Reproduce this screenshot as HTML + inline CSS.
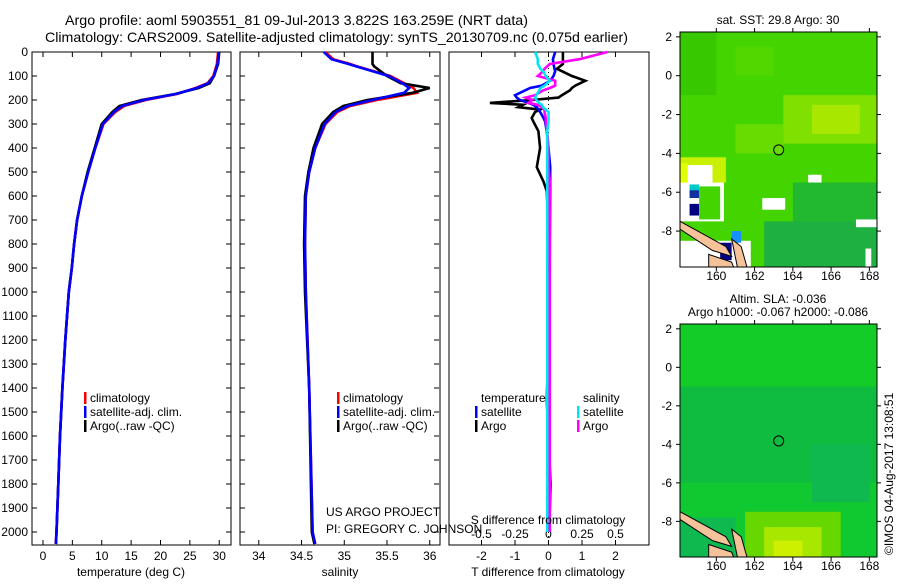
<!DOCTYPE html>
<html><head><meta charset="utf-8"><style>
body{margin:0;background:#fff}
svg text{font-family:"Liberation Sans",sans-serif;font-size:12px;fill:#000}
</style></head><body>
<svg id="s" width="900" height="580" xmlns="http://www.w3.org/2000/svg">
<text x="65" y="25" textLength="463" lengthAdjust="spacingAndGlyphs" style="font-size:14px">Argo profile: aoml 5903551_81 09-Jul-2013 3.822S 163.259E (NRT data)</text>
<text x="45" y="42" textLength="583" lengthAdjust="spacingAndGlyphs" style="font-size:14px">Climatology: CARS2009. Satellite-adjusted climatology: synTS_20130709.nc (0.075d earlier)</text>
<g id="maps"></g>
<g id="plots"></g>
<text transform="translate(893,555) rotate(-90)">©IMOS 04-Aug-2017 13:08:51</text>
</svg>
<script>
// ---- data ----
const depthTicks=[0,100,200,300,400,500,600,700,800,900,1000,1100,1200,1300,1400,1500,1600,1700,1800,1900,2000];
const tDepth=[0,50,100,130,150,175,200,225,250,300,400,500,600,700,800,900,1000,1200,1400,1600,1800,2000,2050];
const tArgo=[30,29.8,29.1,28.4,26.5,22.5,16.8,13.0,11.8,10.0,8.8,7.6,6.6,5.8,5.3,4.9,4.4,3.8,3.3,2.9,2.6,2.3,2.2];
const tClim=[29.8,29.6,29.0,28.0,26.0,22.8,17.5,13.8,12.3,10.3,8.9,7.7,6.6,5.8,5.3,4.9,4.4,3.8,3.3,2.9,2.6,2.3,2.2];
const tSat=[29.9,29.7,29.1,28.1,26.2,22.6,17.2,13.5,12.1,10.2,8.9,7.7,6.6,5.8,5.3,4.9,4.4,3.8,3.3,2.9,2.6,2.3,2.2];
const sDepth=[0,30,50,60,100,130,150,170,200,225,250,300,400,500,600,800,1000,1400,2000,2050];
const sArgo=[35.33,35.33,35.33,35.35,35.5,35.66,36.0,35.8,35.27,34.99,34.87,34.74,34.64,34.58,34.54,34.53,34.54,34.59,34.62,34.65];
const sClim=[34.78,34.87,35.07,35.15,35.54,35.7,35.81,35.85,35.38,35.07,34.92,34.78,34.66,34.59,34.55,34.54,34.55,34.59,34.63,34.66];
const sSat=[34.76,34.85,35.05,35.14,35.52,35.68,35.76,35.7,35.33,35.04,34.9,34.77,34.66,34.59,34.55,34.54,34.55,34.59,34.63,34.66];
const dDepth=[0,30,50,70,80,100,120,140,150,160,180,190,200,212,220,230,240,250,275,290,330,400,480,540,580,800,1200,1450,1600,1800,2000];
const dTArgo=[0.43,0.43,0.43,0.25,0.4,0.7,1.1,0.8,0.7,0.64,0.4,0.3,-0.5,-1.75,-0.76,-0.9,-0.25,-0.4,-0.5,-0.45,-0.3,-0.25,-0.35,-0.15,-0.05,0.02,0.0,-0.05,0.0,0.06,0.02];
const dTSat=[0.2,0.13,0.15,0.18,0.2,0.15,0.05,-0.2,-0.55,-0.7,-1.0,-0.95,-0.85,-0.6,-0.45,-0.35,-0.3,-0.25,-0.15,-0.1,-0.05,0.0,0.05,0.05,0.05,0.04,0.03,0.03,0.03,0.03,0.03];
const dSArgo=[0.44,0.23,0.01,-0.03,-0.04,-0.08,0.05,0.05,0.01,-0.04,-0.1,-0.17,-0.12,-0.15,-0.08,-0.05,-0.03,-0.03,-0.02,-0.02,-0.01,0.0,0.0,0.01,0.01,0.01,0.01,0.01,0.01,0.01,0.01];
const dSSat=[-0.1,-0.08,-0.08,-0.06,-0.04,-0.02,0.01,-0.03,-0.06,-0.07,-0.09,-0.1,-0.09,-0.07,-0.05,-0.04,-0.02,0.0,0.0,0.0,-0.01,-0.01,-0.01,-0.01,-0.01,-0.01,-0.01,-0.01,-0.01,-0.01,-0.01];
const tTicks=[0,5,10,15,20,25,30];
const salTicks=[34,34.5,35,35.5,36];
const salTickLabels=["34","34.5","35","35.5","36"];
const dtTicks=[-2,-1,0,1,2];
const dsTicks=[-0.5,-0.25,0,0.25,0.5];
const dsTickLabels=["-0.5","-0.25","0","0.25","0.5"];
const latTicks=[2,0,-2,-4,-6,-8];
const lonTicks=[160,162,164,166,168];
// ---- helpers ----
const NS="http://www.w3.org/2000/svg";
const svg=document.getElementById('s');
const plots=document.getElementById('plots');
function mk(tag,attrs,parent,text){const e=document.createElementNS(NS,tag);for(const k in attrs)e.setAttribute(k,attrs[k]);if(text!==undefined)e.textContent=text;(parent||plots).appendChild(e);return e;}
const yTop=52,yBot=545;
const yD=d=>yTop+d*0.24;
function panel(x0,x1,xmin,xmax,name){
  const sx=v=>x0+(v-xmin)/(xmax-xmin)*(x1-x0);
  const r=mk('rect',{x:x0,y:yTop,width:x1-x0,height:yBot-yTop,fill:'none',stroke:'#000','stroke-width':1});
  
  
  return sx;
}
function line(xs,ds,sx,color,name,w,dash){
  let d='';xs.forEach((v,i)=>{d+=(i?'L':'M')+sx(v).toFixed(1)+','+yD(ds[i]).toFixed(1);});
  const p=mk('path',{d:d,fill:'none',stroke:color,'stroke-width':w||2.6});
  if(dash)p.setAttribute('stroke-dasharray',dash);
  
  
}
function xticks(vals,labels,sx,y,name){
  vals.forEach((v,i)=>{
    const x=sx(v);
    mk('line',{x1:x,x2:x,y1:yTop,y2:yTop+5,stroke:'#000'});
    mk('line',{x1:x,x2:x,y1:yBot,y2:yBot-5,stroke:'#000'});
    const t=mk('text',{x:x,y:y,'text-anchor':'middle'},plots,labels[i]);
    
    
  });
}
function legend(x,y,color,label,name){
  mk('rect',{x:x-6,y:y-10,width:2.5,height:12,fill:color});
  const t=mk('text',{x:x,y:y},plots,label);
  
  
}
function txt(x,y,s,name,anchor){const t=mk('text',{x:x,y:y,'text-anchor':anchor||'start'},plots,s);
  
  }
// ---- panel 1: temperature ----
const sxT=panel(32,231,-1.87,32.0,'temperature-panel');
depthTicks.forEach(d=>{
  const y=yD(d);
  mk('line',{x1:32,x2:37,y1:y,y2:y,stroke:'#000'});mk('line',{x1:231,x2:226,y1:y,y2:y,stroke:'#000'});
  mk('line',{x1:240,x2:245,y1:y,y2:y,stroke:'#000'});mk('line',{x1:439,x2:434,y1:y,y2:y,stroke:'#000'});
  const t=mk('text',{x:28,y:y+4,'text-anchor':'end'},plots,String(d));
  
  
});
xticks(tTicks,tTicks.map(String),sxT,560,'temperature');
line(tClim,tDepth,sxT,'#ff0000','temperature-climatology-line');
line(tArgo,tDepth,sxT,'#000000','temperature-argo-line');
line(tSat,tDepth,sxT,'#0000ff','temperature-satellite-line');
txt(131,576,'temperature (deg C)','temperature-axis-title','middle');
legend(90,402,'#ff0000','climatology','legend-climatology');
legend(90,416,'#0000ff','satellite-adj. clim.','legend-satellite-adj');
legend(90,430,'#000000','Argo(..raw -QC)','legend-argo');
// ---- panel 2: salinity ----
const sxS=panel(240,440,33.78,36.12,'salinity-panel');
xticks(salTicks,salTickLabels,sxS,560,'salinity');
line(sClim,sDepth,sxS,'#ff0000','salinity-climatology-line');
line(sArgo,sDepth,sxS,'#000000','salinity-argo-line');
line(sSat,sDepth,sxS,'#0000ff','salinity-satellite-line');
txt(340,576,'salinity','salinity-axis-title','middle');
legend(343,402,'#ff0000','climatology','legend-climatology-2');
legend(343,416,'#0000ff','satellite-adj. clim.','legend-satellite-adj-2');
legend(343,430,'#000000','Argo(..raw -QC)','legend-argo-2');
txt(326,516,'US ARGO PROJECT','project-label');
txt(326,533,'PI: GREGORY C. JOHNSON','pi-label');
// ---- panel 3: differences ----
const sxD=panel(449,649,-2.97,3.0,'difference-panel');
const sxDS=v=>sxD(v*4);
xticks(dtTicks,dtTicks.map(String),sxD,560,'t-difference');
dsTicks.forEach((v,i)=>{const t=mk('text',{x:sxDS(v),y:538,'text-anchor':'middle'},plots,dsTickLabels[i]);
  
  });
mk('line',{x1:sxD(0),x2:sxD(0),y1:yTop,y2:yBot,stroke:'#000','stroke-dasharray':'1,3'});
line(dTArgo,dDepth,sxD,'#000000','t-diff-argo-line');
line(dTSat,dDepth,sxD,'#0000ff','t-diff-satellite-line');
line(dSArgo,dDepth,sxDS,'#ff00ff','s-diff-argo-line');
line(dSSat,dDepth,sxDS,'#00e5ee','s-diff-satellite-line');
txt(548,524,'S difference from climatology','s-difference-axis-title','middle');
txt(548,576,'T difference from climatology','t-difference-axis-title','middle');
txt(481,402,'temperature','legend-temperature-heading');
txt(583,402,'salinity','legend-salinity-heading');
legend(481,416,'#0000ff','satellite','legend-t-satellite');
legend(481,430,'#000000','Argo','legend-t-argo');
legend(583,416,'#00e5ee','satellite','legend-s-satellite');
legend(583,430,'#ff00ff','Argo','legend-s-argo');
// ---- maps ----
const maps=document.getElementById('maps');
function mapPanel(y0,y1,name,base,patches){
  const x0=680,x1=877;
  const lx=v=>x0+(v-158.1)/(168.4-158.1)*(x1-x0);
  const ly=v=>y0+(2.25-v)/(2.25+9.85)*(y1-y0);
  const g=mk('g',{},maps);
  
  
  mk('rect',{x:x0,y:y0,width:x1-x0,height:y1-y0,fill:base},g);
  patches.forEach(p=>mk('rect',{x:lx(p[0]),y:ly(p[1]),width:lx(p[2])-lx(p[0]),height:ly(p[3])-ly(p[1]),fill:p[4]},g));
  mk('path',{d:`M${lx(158.1)},${ly(-7.5)} L${lx(160.5)},${ly(-8.8)} L${lx(160.8)},${ly(-9.3)} L${lx(159.8)},${ly(-9.0)} L${lx(158.1)},${ly(-7.9)} Z`,fill:'#f5c29a',stroke:'#000'},g);
  mk('path',{d:`M${lx(160.8)},${ly(-8.4)} L${lx(161.3)},${ly(-8.8)} L${lx(161.6)},${ly(-9.85)} L${lx(161.1)},${ly(-9.85)} Z`,fill:'#f5c29a',stroke:'#000'},g);
  mk('path',{d:`M${lx(159.6)},${ly(-9.2)} L${lx(160.8)},${ly(-9.6)} L${lx(160.9)},${ly(-9.85)} L${lx(159.6)},${ly(-9.85)} Z`,fill:'#f5c29a',stroke:'#000'},g);
  mk('circle',{cx:lx(163.259),cy:ly(-3.822),r:5,fill:'none',stroke:'#000'},g);
  mk('rect',{x:x0,y:y0,width:x1-x0,height:y1-y0,fill:'none',stroke:'#000'},g);
  latTicks.forEach(v=>{const y=ly(v);mk('line',{x1:x0-4,x2:x0,y1:y,y2:y,stroke:'#000'},g);mk('line',{x1:x1,x2:x1+4,y1:y,y2:y,stroke:'#000'},g);
    const t=mk('text',{x:x0-8,y:y+4,'text-anchor':'end'},g,String(v));
    
    });
  lonTicks.forEach(v=>{const x=lx(v);mk('line',{x1:x,x2:x,y1:y0-4,y2:y0,stroke:'#000'},g);mk('line',{x1:x,x2:x,y1:y1,y2:y1+4,stroke:'#000'},g);
    const t=mk('text',{x:x,y:y1+13,'text-anchor':'middle'},g,String(v));
    
    });
}
mapPanel(32,267,'sst-map','#44d400',[
 [158.1,2.25,160,-1,'#38c800'],[161,1.5,163,0,'#50d800'],[163.5,-1,168.4,-3.5,'#80e000'],[165,-1.5,167.5,-3,'#a8e800'],
 [161,-2.5,163.5,-4,'#66dc00'],[158.1,-4.2,160.5,-5.5,'#c8f000'],[158.1,-4.5,158.5,-6,'#e0ff00'],
 [164,-5.5,168.4,-9.85,'#22b830'],[162.5,-7.5,168.4,-9.85,'#1eb040'],
 [158.5,-4.6,159.8,-5.5,'#ffffff'],[158.1,-5.5,160.4,-7.5,'#ffffff'],[158.6,-5.6,159.1,-6.1,'#00c8c8'],[158.6,-5.9,159.1,-6.3,'#1030a0'],
 [158.6,-6.6,159.1,-7.2,'#000080'],[159.1,-5.7,160.2,-7.4,'#44d400'],[158.1,-8.5,161.8,-9.85,'#ffffff'],[160.2,-8.6,160.8,-9.5,'#000080'],
 [160.8,-8.0,161.3,-8.6,'#1890ff'],[164.8,-5.1,165.5,-5.5,'#ffffff'],[162.4,-6.3,163.6,-6.9,'#ffffff'],[167.3,-7.4,168.4,-7.8,'#ffffff'],[167.8,-8.9,168.1,-9.85,'#ffffff']
]);
mapPanel(324,557,'sla-map','#10c830',[
 [158.1,2.25,168.4,-1,'#14cc28'],[158.1,-1,168.4,-6,'#10bc40'],[165,-4,168,-7,'#10b850'],
 [161.5,-7.5,166.5,-9.85,'#66d800'],[162.5,-8.3,165.5,-9.85,'#a8e800'],[163,-9,164.5,-9.85,'#ccf000'],[158.1,-7.8,161,-9.85,'#10b850']
]);
const m1=mk('text',{x:778,y:24,'text-anchor':'middle'},maps,'sat. SST: 29.8 Argo: 30');


const m2=mk('text',{x:778,y:303,'text-anchor':'middle'},maps,'Altim. SLA: -0.036');


const m3=mk('text',{x:778,y:316,'text-anchor':'middle'},maps,'Argo h1000: -0.067 h2000: -0.086');


</script>
</body></html>
